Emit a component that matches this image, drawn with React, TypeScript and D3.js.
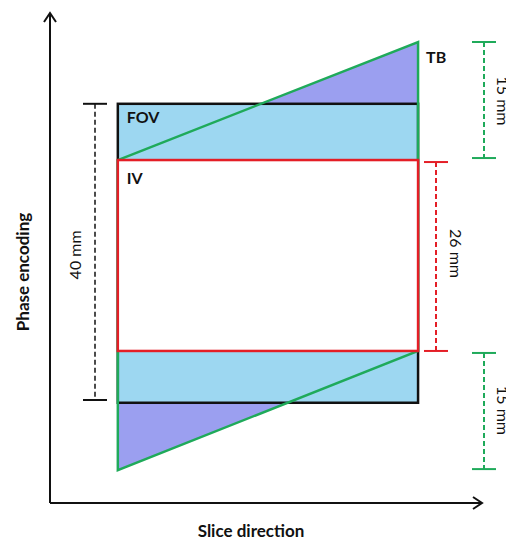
import React from "react";
import * as d3 from "d3";

// Slice-direction extent of the slab (arbitrary slice units, axis 0..100)
const sliceExtent = [15.7, 85.2];
// Phase-encoding edges (mm, relative to slab centre) as drawn
const tbEdges = [28.85, -29.0]; // travelling-band outer corners (right top, left bottom)
const fovEdges = [20.5, -19.9];
const ivEdges = [12.9, -12.9];
// Dimension annotations
const dimLabels = ["40 mm", "26 mm", "15 mm", "15 mm"];
const regionLabels = ["FOV", "IV", "TB"];
const axisLabels = ["Phase encoding", "Slice direction"];

const W = 506;
const H = 540;
const FONT = "Lato, 'Open Sans', sans-serif";

export default function App() {
  const x = d3.scaleLinear().domain([0, 100]).range([50, 482]);
  const y = d3.scaleLinear().domain([0, 1]).range([255.5, 248.1]); // 7.4 px per mm
  const x0 = x(sliceExtent[0]);
  const x1 = x(sliceExtent[1]);
  const tbTop = y(tbEdges[0]);
  const tbBot = y(tbEdges[1]);
  const fovTop = y(fovEdges[0]);
  const fovBot = y(fovEdges[1]);
  const ivTop = y(ivEdges[0]);
  const ivBot = y(ivEdges[1]);

  const line = d3.line();
  const tbPoly: [number, number][] = [
    [x0, ivTop],
    [x1, tbTop],
    [x1, ivBot],
    [x0, tbBot],
  ];

  const blue = "#9dd7f1";
  const purple = "#9b9ff0";
  const green = "#1faa5a";
  const red = "#e41e26";
  const axisY0 = 503;
  const axisX0 = x(0);

  const cap = (cx: number, cy: number, color: string, half = 12) => (
    <line x1={cx - half} x2={cx + half} y1={cy} y2={cy} stroke={color} strokeWidth={2} />
  );

  const dim = (cx: number, ya: number, yb: number, color: string, width: number) => (
    <g>
      <line x1={cx} x2={cx} y1={ya} y2={yb} stroke={color} strokeWidth={width} strokeDasharray="5,3" />
      {cap(cx, ya, color)}
      {cap(cx, yb, color)}
    </g>
  );

  return (
    <svg width={W} height={H} style={{ position: "absolute", left: 0, top: 0, background: "#fff" }}>
      {/* axes */}
      <line x1={axisX0} x2={axisX0} y1={axisY0} y2={13} stroke="#111" strokeWidth={2} />
      <line x1={axisX0} x2={x(100)} y1={axisY0} y2={axisY0} stroke="#111" strokeWidth={2} />
      <path d={`M${axisX0 - 6},${22} L${axisX0},${13} L${axisX0 + 6},${22}`} fill="none" stroke="#111" strokeWidth={2} />
      <path d={`M${x(100) - 9},${axisY0 - 6} L${x(100)},${axisY0} L${x(100) - 9},${axisY0 + 6}`} fill="none" stroke="#111" strokeWidth={2} />

      {/* TB fill */}
      <path d={line(tbPoly) + "Z"} fill={purple} />
      {/* FOV */}
      <rect x={x0} y={fovTop} width={x1 - x0} height={fovBot - fovTop} fill={blue} stroke="#111" strokeWidth={2.5} />
      {/* TB outline */}
      <path d={line(tbPoly) + "Z"} fill="none" stroke={green} strokeWidth={2.5} strokeLinejoin="miter" />
      {/* IV */}
      <rect x={x0} y={ivTop} width={x1 - x0} height={ivBot - ivTop} fill="#fff" stroke={red} strokeWidth={2.5} />

      {/* region labels */}
      <text x={x0 + 9} y={fovTop + 19} fontFamily={FONT} fontWeight={700} fontSize={16} fill="#111">{regionLabels[0]}</text>
      <text x={x0 + 9} y={ivTop + 24} fontFamily={FONT} fontWeight={700} fontSize={16} fill="#111">{regionLabels[1]}</text>
      <text x={x1 + 8} y={tbTop + 21} fontFamily={FONT} fontWeight={700} fontSize={16} fill="#111">{regionLabels[2]}</text>

      {/* dimensions */}
      {dim(95, fovTop, 400, "#111", 1.5)}
      <text transform={`translate(74,${(fovTop + 400) / 2 + 3}) rotate(-90)`} textAnchor="middle" dominantBaseline="central" fontFamily={FONT} fontSize={16} fill="#111">{dimLabels[0]}</text>

      {dim(436, ivTop + 2, ivBot, red, 2)}
      <text transform={`translate(456,${(ivTop + ivBot) / 2 - 2}) rotate(90)`} textAnchor="middle" dominantBaseline="central" fontFamily={FONT} fontSize={16} fill="#111">{dimLabels[1]}</text>

      {dim(484, tbTop, ivTop - 2, green, 2)}
      <text transform={`translate(503,${(tbTop + ivTop) / 2}) rotate(90)`} textAnchor="middle" dominantBaseline="central" fontFamily={FONT} fontSize={16} fill="#111">{dimLabels[2]}</text>

      {dim(484, ivBot + 2, tbBot - 1, green, 2)}
      <text transform={`translate(503,${(ivBot + tbBot) / 2}) rotate(90)`} textAnchor="middle" dominantBaseline="central" fontFamily={FONT} fontSize={16} fill="#111">{dimLabels[3]}</text>

      {/* axis labels */}
      <text transform={`translate(22,272) rotate(-90)`} textAnchor="middle" dominantBaseline="central" fontFamily={FONT} fontWeight={700} fontSize={17} fill="#111">{axisLabels[0]}</text>
      <text x={251} y={537} textAnchor="middle" fontFamily={FONT} fontWeight={700} fontSize={17} fill="#111">{axisLabels[1]}</text>
    </svg>
  );
}
